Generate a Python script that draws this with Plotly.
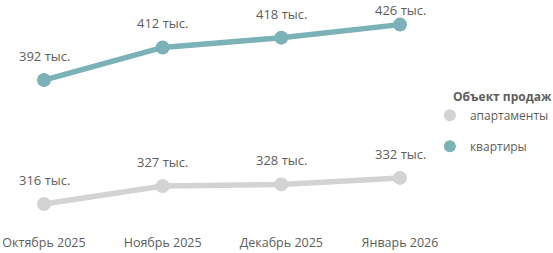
import plotly.graph_objects as go

months = ["Октябрь 2025", "Ноябрь 2025", "Декабрь 2025", "Январь 2026"]
apartments = [316, 327, 328, 332]
flats = [392, 412, 418, 426]
legend_title = "Объект продаж"
names = ["апартаменты", "квартиры"]

GRAY = "#D3D3D3"
TEAL = "#7AB2B7"
TXT = "#605E5C"
FONT = "Open Sans"

Y_RANGE = [298.2, 441.1]
PLOT_H = 233

fig = go.Figure()
series = [(names[0], apartments, GRAY), (names[1], flats, TEAL)]
for name, vals, col in series:
    fig.add_trace(go.Scatter(
        x=list(range(len(months))), y=vals, mode="lines+markers",
        line=dict(color=col, width=5.5), marker=dict(color=col, size=14),
        showlegend=False, hoverinfo="skip"))
for i, (name, vals, col) in enumerate(series):
    fig.add_trace(go.Scatter(
        x=[None], y=[None], mode="markers", name=name,
        marker=dict(color=col, size=12), legendgroup=f"g{i}"))
    for j, v in enumerate(vals):
        pix = (Y_RANGE[1] - v) / (Y_RANGE[1] - Y_RANGE[0]) * PLOT_H
        shift = min(24, pix - 10)
        fig.add_annotation(x=j, y=v, text=f"{v} тыс.", showarrow=False,
                           yshift=shift, font=dict(family=FONT, size=13, color=TXT))

fig.update_layout(
    width=553, height=253, margin=dict(l=0, r=113, t=0, b=20, autoexpand=False),
    paper_bgcolor="white", plot_bgcolor="white",
    font=dict(family=FONT, size=12, color=TXT),
    xaxis=dict(range=[-0.3708, 3.337], tickvals=list(range(len(months))),
               ticktext=months, showgrid=False, zeroline=False, showline=False,
               tickfont=dict(family=FONT, size=12.5, color=TXT)),
    yaxis=dict(range=Y_RANGE, visible=False),
    legend=dict(x=0.977, xanchor="left", y=0.635, yanchor="top",
                title=dict(text=f"<b>{legend_title}</b>", side="top right",
                           font=dict(size=12, color=TXT)),
                font=dict(size=12, color=TXT), tracegroupgap=12, itemwidth=30,
                bgcolor="rgba(0,0,0,0)"),
    showlegend=True,
)
fig.write_html("out.html")
